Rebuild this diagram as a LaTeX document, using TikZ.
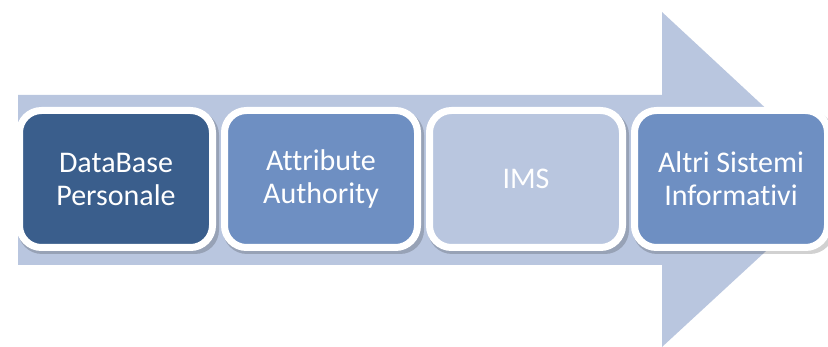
\documentclass[tikz,border=0pt]{standalone}
\usepackage{fontspec}
\setmainfont{Carlito}[Ligatures={NoCommon}]
\definecolor{arrowblue}{HTML}{B9C6DF}
\definecolor{darkblue}{HTML}{3A5E8C}
\definecolor{midblue}{HTML}{6E8FC2}
\definecolor{lightblue}{HTML}{B9C6DF}
\begin{document}
\begin{tikzpicture}[x=1pt,y=-1pt,
  stagebox/.style={draw=white, line width=7pt, rounded corners=22pt,
    minimum width=193pt, minimum height=137pt, inner sep=0pt,
    text=white, align=center,
    font=\fontsize{30}{33}\selectfont},
  boxshadow/.style={fill=black, opacity=0.18, rounded corners=24pt}]
\useasboundingbox (0,0) rectangle (828,347);
\begin{scope}
\clip (0,0) rectangle (828,347);
\fill[arrowblue] (18,95) -- (662,95) -- (662,12) -- (843,180) -- (662,347) -- (662,265) -- (18,265) -- cycle;
\foreach \cx in {116,321,526,731}{
  \fill[boxshadow] (\cx-98,111) rectangle (\cx+103,254);
}
\node[stagebox, fill=darkblue] (db) at (116,179) {DataBase\\Personale};
\node[stagebox, fill=midblue] (aa) at (321,179) {Attribute\\Authority};
\node[stagebox, fill=lightblue] (ims) at (526,179) {IMS};
\node[stagebox, fill=midblue] (altri) at (731,179) {Altri Sistemi\\Informativi};
\end{scope}
\end{tikzpicture}
\end{document}
